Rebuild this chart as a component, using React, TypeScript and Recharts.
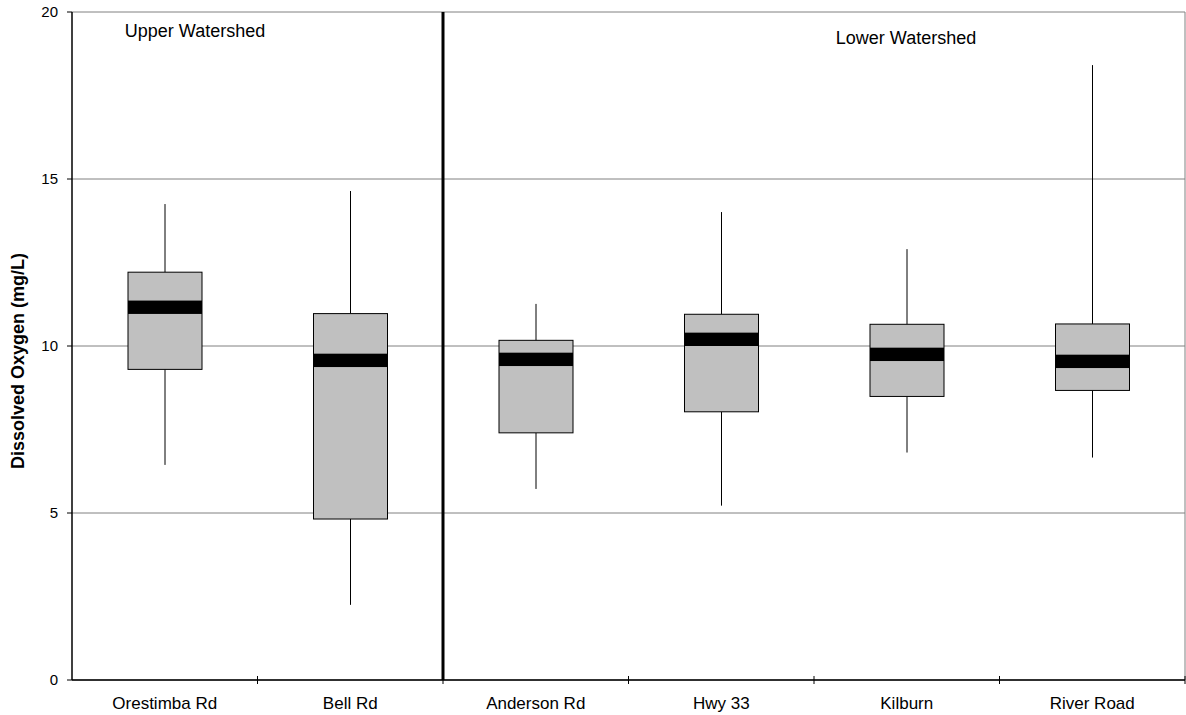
import React from 'react';
import { ComposedChart, Bar, XAxis, YAxis, CartesianGrid, ReferenceLine } from 'recharts';

// Dissolved oxygen summary statistics per monitoring site (mg/L)
const sites = ['Orestimba Rd', 'Bell Rd', 'Anderson Rd', 'Hwy 33', 'Kilburn', 'River Road'];
const minVals = [6.44, 2.25, 5.72, 5.22, 6.81, 6.66];
const q1Vals = [9.3, 4.82, 7.4, 8.03, 8.49, 8.67];
const medianVals = [11.16, 9.57, 9.6, 10.2, 9.75, 9.54];
const q3Vals = [12.21, 10.97, 10.17, 10.95, 10.65, 10.66];
const maxVals = [14.25, 14.64, 11.26, 14.01, 12.9, 18.41];
const yTicks = [0, 5, 10, 15, 20];
const firstLowerSite = 'Anderson Rd'; // lower watershed starts here
const lastSite = sites[sites.length - 1];

const FONT = 'Arial, "Liberation Sans", sans-serif';
const MEDIAN_HALF = 0.2;
const TICK_HALF = 0.12;

const data = sites.map((site, i) => ({
  site,
  range: [minVals[i], maxVals[i]],
  min: minVals[i],
  q1: q1Vals[i],
  median: medianVals[i],
  q3: q3Vals[i],
  max: maxVals[i],
}));

// Draws a box-and-whisker glyph inside the min..max range bar
const BoxShape = (props: any) => {
  const { x, y, width, height, payload } = props;
  if (!payload || height == null) return null;
  const { min, q1, median, q3, max } = payload;
  const k = height / (max - min);
  const py = (v: number) => y + (max - v) * k;
  const cx = x + width / 2;
  const boxTop = py(q3);
  const boxBottom = py(q1);
  const medTop = py(median + MEDIAN_HALF);
  const medBottom = py(median - MEDIAN_HALF);
  return (
    <g>
      <line x1={cx} x2={cx} y1={py(max)} y2={boxTop} stroke="#000" strokeWidth={1} />
      <line x1={cx} x2={cx} y1={boxBottom} y2={py(min)} stroke="#000" strokeWidth={1} />
      <rect x={x} y={boxTop} width={width} height={boxBottom - boxTop} fill="#c0c0c0" stroke="#000" strokeWidth={1} />
      <rect x={x} y={medTop} width={width} height={medBottom - medTop} fill="#000" />
    </g>
  );
};

const YTitle = (props: any) => {
  const vb = props.viewBox || { x: 0, y: 12, width: 72, height: 668 };
  const cx = vb.x + 18;
  const cy = vb.y + vb.height / 2 + 15;
  return (
    <text
      x={cx}
      y={cy}
      transform={`rotate(-90, ${cx}, ${cy})`}
      textAnchor="middle"
      dominantBaseline="central"
      fontFamily={FONT}
      fontWeight="bold"
      fontSize={18}
      fill="#000"
    >
      Dissolved Oxygen (mg/L)
    </text>
  );
};

export default function App() {
  return (
    <div style={{ position: 'absolute', left: 0, top: 0, background: '#fff' }}>
      <ComposedChart
        width={1186}
        height={715}
        data={data}
        margin={{ top: 12, right: 1, bottom: 0, left: 0 }}
      >
        <CartesianGrid vertical={false} stroke="#808080" strokeWidth={1} />
        <XAxis
          dataKey="site"
          height={35}
          axisLine={{ stroke: '#000', strokeWidth: 1.5 }}
          tickLine={false}
          tickSize={0}
          tickMargin={17}
          tick={{ fontSize: 17, fill: '#000', fontFamily: FONT }}
          interval={0}
        />
        <YAxis
          domain={[0, 20]}
          ticks={yTicks}
          width={72}
          interval={0}
          axisLine={{ stroke: '#000', strokeWidth: 1.5 }}
          tickLine={{ stroke: '#000' }}
          tickSize={5}
          tickMargin={9}
          tick={{ fontSize: 15, fill: '#000', fontFamily: FONT }}
          label={<YTitle />}
        />
        <ReferenceLine x={lastSite} position="end" stroke="#808080" strokeWidth={1} ifOverflow="visible" />
        {sites.slice(1).map((s) => (
          <ReferenceLine
            key={s}
            position="start"
            segment={[{ x: s, y: -TICK_HALF }, { x: s, y: TICK_HALF }]}
            stroke="#000"
            strokeWidth={1}
            ifOverflow="visible"
          />
        ))}
        <ReferenceLine
          position="end"
          segment={[{ x: lastSite, y: -TICK_HALF }, { x: lastSite, y: TICK_HALF }]}
          stroke="#000"
          strokeWidth={1}
          ifOverflow="visible"
        />
        <ReferenceLine x={firstLowerSite} position="start" stroke="#000" strokeWidth={3} />
        <Bar dataKey="range" barSize={74} shape={<BoxShape />} isAnimationActive={false} />
        <text x={195} y={37} textAnchor="middle" fontFamily={FONT} fontSize={18} fill="#000">
          Upper Watershed
        </text>
        <text x={906} y={44} textAnchor="middle" fontFamily={FONT} fontSize={18} fill="#000">
          Lower Watershed
        </text>
      </ComposedChart>
    </div>
  );
}
